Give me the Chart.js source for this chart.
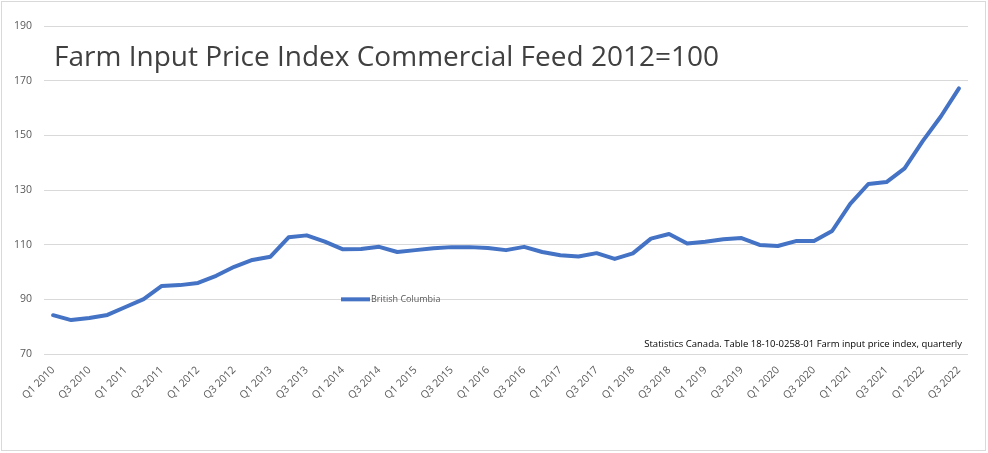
<!DOCTYPE html>
<html>
<head>
<meta charset="utf-8">
<script src="https://cdn.jsdelivr.net/npm/chart.js@4"></script>
<style>
  html, body { margin: 0; padding: 0; background: #fff; }
  #wrap { width: 988px; height: 453px; position: relative; }
</style>
</head>
<body>
<div id="wrap"><canvas id="chart" width="988" height="453"></canvas></div>
<script>
const TITLE = 'Farm Input Price Index Commercial Feed 2012=100';
const SOURCE = 'Statistics Canada. Table 18-10-0258-01 Farm input price index, quarterly';
const SERIES_NAME = 'British Columbia';

const quarters = [];
for (let y = 2010; y <= 2022; y++) {
  for (let q = 1; q <= 4; q++) {
    if (y === 2022 && q > 3) break;
    quarters.push(`Q${q} ${y}`);
  }
}

// Q1 2010 .. Q3 2022
const bcValues = [
  84.2, 82.4, 83.2, 84.3,
  87.2, 90.1, 94.9, 95.2,
  96.0, 98.6, 101.9, 104.4,
  105.6, 112.7, 113.4, 111.1,
  108.3, 108.4, 109.2, 107.3,
  108.0, 108.7, 109.1, 109.1,
  108.8, 108.0, 109.2, 107.3,
  106.1, 105.7, 106.9, 104.8,
  106.8, 112.2, 113.9, 110.4,
  111.1, 112.0, 112.4, 109.9,
  109.5, 111.3, 111.3, 115.0,
  124.9, 132.2, 132.9, 137.9,
  147.9, 156.9, 167.2,
];

const yTicks = { min: 70, max: 190, step: 20 };

const LINE_COLOR = '#4472c4';
const GRID_COLOR = '#d9d9d9';
const TEXT_COLOR = '#595959';

const overlay = {
  id: 'overlay',
  afterDraw(chart) {
    const { ctx, chartArea } = chart;
    ctx.save();
    // outer border
    ctx.strokeStyle = GRID_COLOR;
    ctx.lineWidth = 1;
    ctx.strokeRect(1.5, 1.5, 984, 449);

    // title
    ctx.fillStyle = '#404040';
    ctx.font = '28px "Open Sans", sans-serif';
    ctx.textBaseline = 'middle';
    ctx.textAlign = 'left';
    ctx.fillText(TITLE, chartArea.left + 10, 58);

    // legend
    const ds = chart.data.datasets[0];
    const ly = chart.scales.y.getPixelForValue(90);
    ctx.strokeStyle = ds.borderColor;
    ctx.lineWidth = 4;
    ctx.beginPath();
    ctx.moveTo(341, ly);
    ctx.lineTo(370, ly);
    ctx.stroke();
    ctx.fillStyle = TEXT_COLOR;
    ctx.font = '9px "Open Sans", sans-serif';
    ctx.fillText(ds.label, 371, ly + 0.5);

    // source
    ctx.fillStyle = '#000';
    ctx.font = '9.5px "Open Sans", sans-serif';
    ctx.textAlign = 'right';
    ctx.fillText(SOURCE, chartArea.right - 6, 344);
    ctx.restore();
  },
};

new Chart(document.getElementById('chart').getContext('2d'), {
  type: 'line',
  data: {
    labels: quarters,
    datasets: [{
      label: SERIES_NAME,
      data: bcValues,
      borderColor: LINE_COLOR,
      borderWidth: 4,
      pointRadius: 0,
      tension: 0,
      borderCapStyle: 'round',
      borderJoinStyle: 'round',
    }],
  },
  options: {
    responsive: false,
    animation: false,
    layout: { padding: { top: 26, right: 20, bottom: 0, left: 0 } },
    plugins: {
      legend: { display: false },
      tooltip: { enabled: false },
    },
    scales: {
      x: {
        offset: true,
        grid: { display: false },
        border: { display: false },
        ticks: {
          autoSkip: false,
          maxRotation: 45,
          minRotation: 45,
          padding: 2,
          color: TEXT_COLOR,
          font: { family: '"Open Sans", sans-serif', size: 10.5 },
          callback: (v, i) => (i % 2 === 0 ? quarters[i] : ''),
        },
        afterFit: s => { s.height = 99; },
      },
      y: {
        min: yTicks.min,
        max: yTicks.max,
        grid: { color: GRID_COLOR, drawTicks: false },
        border: { display: false },
        ticks: {
          stepSize: yTicks.step,
          padding: 12,
          color: TEXT_COLOR,
          font: { family: '"Open Sans", sans-serif', size: 10.5 },
        },
        afterFit: s => { s.width = 44; },
      },
    },
  },
  plugins: [overlay],
});
</script>
</body>
</html>
